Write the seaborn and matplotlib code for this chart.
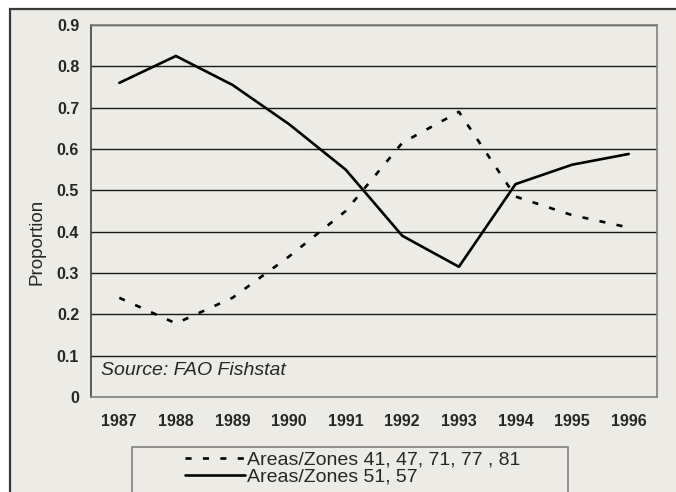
import numpy as np
import pandas as pd
import seaborn as sns
import matplotlib.pyplot as plt
from matplotlib.patches import Rectangle

years = [1987, 1988, 1989, 1990, 1991, 1992, 1993, 1994, 1995, 1996]
zones_41_81 = [0.24, 0.178, 0.24, 0.34, 0.45, 0.615, 0.69, 0.485, 0.44, 0.41]
zones_51_57 = [0.76, 0.825, 0.755, 0.66, 0.55, 0.39, 0.315, 0.515, 0.562, 0.588]
label_a = "Areas/Zones 41, 47, 71, 77 , 81"
label_b = "Areas/Zones 51, 57"
y_ticks = [0, 0.1, 0.2, 0.3, 0.4, 0.5, 0.6, 0.7, 0.8, 0.9]
y_ticklabels = ["0", "0.1", "0.2", "0.3", "0.4", "0.5", "0.6", "0.7", "0.8", "0.9"]

if __name__ == '__main__':
    df = pd.DataFrame({
        "year": years * 2,
        "value": zones_41_81 + zones_51_57,
        "series": [label_a] * len(years) + [label_b] * len(years),
    })

    sns.set_theme(style="white")
    plt.rcParams['font.family'] = ['Liberation Sans', 'DejaVu Sans']
    bg = '#ECEBE5'

    fig = plt.figure(figsize=(6.76, 4.92), dpi=100, facecolor='white')
    # outer chart frame (cropped at right / bottom)
    fig.patches.append(Rectangle((10 / 676, -0.1), 1.2, (492 - 9) / 492 + 0.1,
                                 transform=fig.transFigure, facecolor=bg,
                                 edgecolor='#3a3a3a', lw=1.6, zorder=-5))
    ax = fig.add_axes([91 / 676, 95 / 492, 566 / 676, 372 / 492])
    ax.set_facecolor(bg)

    sns.lineplot(data=df, x="year", y="value", hue="series", style="series",
                 palette={label_a: 'black', label_b: 'black'},
                 dashes={label_a: (2.3, 4.3), label_b: ''},
                 linewidth=1.9, ax=ax, legend=False)

    ax.set_xlim(1986.5, 1996.5)
    ax.set_ylim(0, 0.9)
    ax.set_yticks(y_ticks)
    ax.set_yticklabels(y_ticklabels, fontsize=11.5, fontweight='bold')
    ax.set_xticks(years)
    ax.set_xticklabels([str(y) for y in years], fontsize=11.5, fontweight='bold')
    ax.set_xticks(np.arange(1986.5, 1997, 1), minor=True)
    ax.tick_params(axis='x', which='major', length=0, pad=12)
    ax.tick_params(axis='x', which='minor', length=5, color='#707070', width=1)
    ax.tick_params(axis='y', length=5, color='#707070', width=1, pad=3.5)
    ax.yaxis.grid(True, color='#1a1a1a', lw=1)
    ax.set_axisbelow(True)
    for s in ax.spines.values():
        s.set_color('#808080')
        s.set_linewidth(1.2)
    ax.spines['left'].set_color('#404040')
    ax.set_xlabel("")
    ax.set_ylabel("Proportion", fontsize=13.5)
    ax.yaxis.set_label_coords(-46 / 566, (397 - 242) / 372)

    ax.text(0.018, 0.07, "Source: FAO Fishstat", transform=ax.transAxes,
            fontsize=14, fontstyle='italic', va='center', ha='left')

    # legend box
    fig.patches.append(Rectangle((132 / 676, -0.05), (568 - 132) / 676, (492 - 447) / 492 + 0.05,
                                 transform=fig.transFigure, facecolor=bg,
                                 edgecolor='#808080', lw=1.2, zorder=1))
    handles = ax.get_lines()[:2]
    leg = fig.legend(handles, [label_a, label_b], loc='upper left',
                     bbox_to_anchor=(185 / 676, 1 - 451 / 492), frameon=False,
                     fontsize=14, handlelength=3.1, handletextpad=0.1,
                     labelspacing=-0.03, borderpad=0, borderaxespad=0)

    plt.savefig("out.png", dpi=100, facecolor='white')
